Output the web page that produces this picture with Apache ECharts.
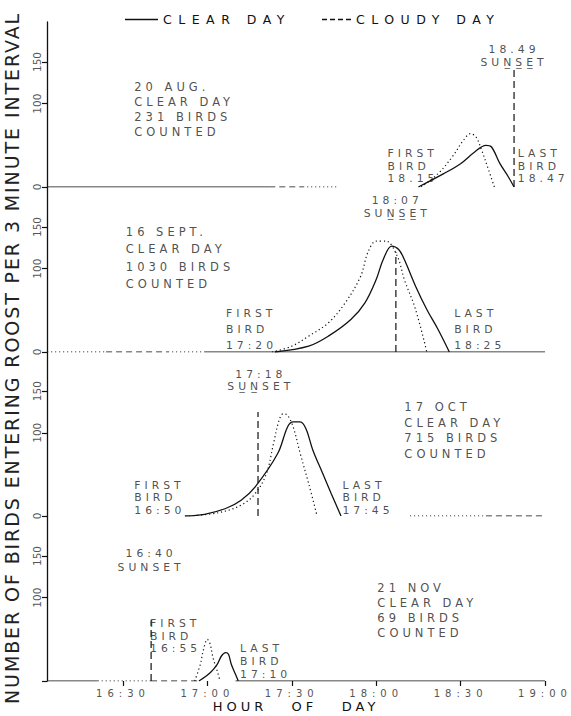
<!DOCTYPE html>
<html>
<head>
<meta charset="utf-8">
<script src="https://cdn.jsdelivr.net/npm/echarts@6/dist/echarts.min.js"></script>
<style>
html, body { margin: 0; padding: 0; background: #fff; }
#main { width: 571px; height: 716px; }
/* lettering is widely spaced in the original drawing */
#main text[style*="12.5px"] { letter-spacing: 6.5px; }
#main text[style*="11.5px"] { letter-spacing: 4px; }
#main text[style*="10.8px"] { letter-spacing: 4px; }
#main text[style*="10px"] { letter-spacing: 5px; }
#main text[style*="13px"] { letter-spacing: 4px; }
#main text[style*="19px"] { letter-spacing: 1.9px; }
</style>
</head>
<body>
<div id="main"></div>
<script>
var FONT = '"DejaVu Sans", sans-serif';

// time in minutes after midnight
var T_MIN = 963, T_MAX = 1140;
var hourTicks = [990, 1020, 1050, 1080, 1110, 1140];
var countTicks = [0, 100, 150];

// 20 AUG
var augClear = [[1095, 0], [1104, 16], [1110, 28], [1115, 42], [1119, 50], [1121, 48], [1124, 28], [1127, 12], [1129, 0]];
var augCloudy = [[1096, 0], [1102, 16], [1107, 36], [1111, 56], [1113.5, 64], [1115.5, 60], [1117.5, 44], [1120, 20], [1122, 0]];
// 16 SEPT
var septClear = [[1044, 0], [1056, 7], [1063, 19], [1071, 39], [1076, 59], [1080, 87], [1082.5, 111], [1085.5, 127], [1088, 123], [1090, 111], [1094, 79], [1098, 51], [1102, 27], [1106, 0]];
var septCloudy = [[1043, 0], [1050, 7], [1056, 19], [1063, 35], [1069, 59], [1074.5, 91], [1077, 119], [1080, 133], [1083.5, 133], [1087.5, 115], [1090, 87], [1094, 51], [1098, 0]];
// 17 OCT
var octClear = [[1012, 0], [1019, 2], [1026.5, 9], [1032, 19], [1037, 35], [1045, 75], [1048.5, 107], [1050.5, 113], [1053, 113], [1055, 105], [1057.5, 79], [1061, 51], [1064, 27], [1067.5, 0]];
var octCloudy = [[1013.5, 0], [1024, 4], [1032, 13], [1037, 27], [1041, 51], [1043.5, 87], [1045.5, 115], [1047, 123], [1048.5, 121], [1050.5, 107], [1053, 75], [1056, 39], [1059, 0]];
// 21 NOV
var novClear = [[1017, 0], [1021, 10], [1023.5, 20], [1025, 30], [1026.5, 34], [1027.5, 32], [1028.5, 20], [1030, 8], [1031, 0]];
var novCloudy = [[1015.5, 0], [1017.5, 20], [1018.5, 36], [1020, 50], [1021, 44], [1022, 28], [1023.5, 12], [1024.5, 0]];

var sunsetTimes = [1129, 1087, 1038, 1000];
var sunsetLineTops = [144, 120, 125, 73];

// zero line pieces: start, end, style
var augBase = [[963, 1042, 'solid'], [1042, 1054, 'dashed'], [1054, 1066, 'dotted']];
var septBase = [[963, 984, 'dotted'], [984, 1006, 'dashed'], [1006, 1019, 'dotted'], [1019, 1140, 'solid']];
var octBase = [[1092, 1119, 'dotted'], [1119, 1140, 'dashed']];
var novBase = [[963, 981, 'solid'], [981, 1000, 'dotted'], [1000, 1017, 'dashed'], [1030, 1140, 'solid']];

// notes: anchor (time, count), text, placement, line height, font size
var augNotes = [
	[994, 93, '20 AUG.\nCLEAR DAY\n231 BIRDS\nCOUNTED', 'right', 15, 11.5],
	[1129, 157, '18.49\nSUN\u0332S\u0332E\u0332T', 'inside', 12.5, 10.8],
	[1084, 25, 'FIRST\nBIRD\n18.15', 'right', 12.5, 10.8],
	[1130.3, 25, 'LAST\nBIRD\n18.47', 'right', 12.5, 10.8]
];
var septNotes = [
	[1087.5, 174, '18:07\nSUN\u0332S\u0332E\u0332T', 'inside', 13, 10.8],
	[991, 113, '16 SEPT.\nCLEAR DAY\n1030 BIRDS\nCOUNTED', 'right', 17.5, 11.5],
	[1026.6, 27, 'FIRST\nBIRD\n17:20', 'right', 16, 10.8],
	[1107.7, 27, 'LAST\nBIRD\n18:25', 'right', 16, 10.8]
];
var octNotes = [
	[1039, 163, '17:18\nSU\u0332N\u0332SET', 'inside', 12.5, 10.8],
	[1090, 103, '17 OCT\nCLEAR DAY\n715 BIRDS\nCOUNTED', 'right', 15.5, 11.5],
	[994, 22, 'FIRST\nBIRD\n16:50', 'right', 12.5, 10.8],
	[1068, 22, 'LAST\nBIRD\n17:45', 'right', 12.5, 10.8]
];
var novNotes = [
	[1000, 145, '16:40\nSUNSET', 'inside', 14, 10.8],
	[1080.4, 85, '21 NOV\nCLEAR DAY\n69 BIRDS\nCOUNTED', 'right', 15, 11.5],
	[999.6, 54, 'FIRST\nBIRD\n16:55', 'right', 12.5, 10.8],
	[1031.6, 24, 'LAST\nBIRD\n17:10', 'right', 13, 10.8]
];

var clearSets = [augClear, septClear, octClear, novClear];
var cloudySets = [augCloudy, septCloudy, octCloudy, novCloudy];
var baseSets = [augBase, septBase, octBase, novBase];
var noteSets = [augNotes, septNotes, octNotes, novNotes];

var INK = '#111';
var dashTypes = { solid: 'solid', dashed: [6, 4], dotted: [1.2, 2.8] };

function fmtTime(v) {
	var h = Math.floor(v / 60), m = v % 60;
	return h + ':' + (m < 10 ? '0' : '') + m;
}

var chart = echarts.init(document.getElementById('main'), null, { renderer: 'svg' });

var tops = [22, 187, 352, 516];
var heights = [165, 165, 164, 165];
var grids = [], xAxes = [], yAxes = [], series = [];

for (var i = 0; i < 4; i++) {
	var last = i === 3;
	grids.push({ left: 47, right: 26, top: tops[i], height: heights[i] });
	xAxes.push({
		type: 'value', gridIndex: i, min: T_MIN, max: T_MAX,
		axisLine: { show: false },
		splitLine: { show: false },
		axisTick: { show: last, length: 5, customValues: hourTicks, lineStyle: { color: INK, width: 1.2 } },
		axisLabel: { show: last, customValues: hourTicks, formatter: fmtTime, margin: 7, fontSize: 10, fontFamily: FONT, color: '#555' },
		name: last ? 'HOUR   OF   DAY' : '',
		nameLocation: 'middle', nameGap: 19,
		nameTextStyle: { fontSize: 13, fontFamily: FONT, color: INK }
	});
	yAxes.push({
		type: 'value', gridIndex: i, min: 0, max: Math.round(heights[i] / 0.834),
		axisLine: { show: true, lineStyle: { color: INK, width: 1.3 } },
		axisTick: { show: true, length: 5, customValues: countTicks, lineStyle: { color: INK, width: 1.2 } },
		axisLabel: { customValues: last ? [100, 150] : countTicks, rotate: 90, margin: 5, fontSize: 10.5, fontFamily: FONT, color: '#555' },
		splitLine: { show: false }
	});

	// zero line pieces
	baseSets[i].forEach(function (b) {
		series.push({
			type: 'line', xAxisIndex: i, yAxisIndex: i, symbol: 'none', silent: true,
			data: [[b[0], 0], [b[1], 0]],
			lineStyle: { color: INK, width: 1.2, type: dashTypes[b[2]] }
		});
	});

	// sunset marker
	series.push({
		type: 'line', xAxisIndex: i, yAxisIndex: i, symbol: 'none', silent: true,
		data: [[sunsetTimes[i], 0], [sunsetTimes[i], sunsetLineTops[i]]],
		lineStyle: { color: INK, width: 1.2, type: [7, 4] }
	});

	series.push({
		type: 'line', name: 'CLEAR DAY', xAxisIndex: i, yAxisIndex: i, symbol: 'none', smooth: 0.35, silent: true,
		data: clearSets[i],
		lineStyle: { color: INK, width: 1.3, type: 'solid' }, itemStyle: { color: INK }
	});
	series.push({
		type: 'line', name: 'CLOUDY DAY', xAxisIndex: i, yAxisIndex: i, symbol: 'none', smooth: 0.35, silent: true,
		data: cloudySets[i],
		lineStyle: { color: INK, width: 1.2, type: dashTypes.dotted }, itemStyle: { color: INK }
	});

	series.push({
		type: 'scatter', xAxisIndex: i, yAxisIndex: i, silent: true, clip: false, symbolSize: 0.1,
		itemStyle: { color: 'rgba(0,0,0,0)' }, z: 10,
		data: noteSets[i].map(function (n) {
			return {
				value: [n[0], n[1]],
				label: {
					show: true, formatter: n[2], position: n[3], distance: 0,
					align: n[3] === 'inside' ? 'center' : 'left',
					lineHeight: n[4], fontSize: n[5], fontFamily: FONT, color: '#222'
				}
			};
		})
	});
}

var option = {
	animation: false,
	backgroundColor: '#fff',
	grid: grids,
	xAxis: xAxes,
	yAxis: yAxes,
	legend: [
		{
			left: 120, top: 8, itemWidth: 33, itemHeight: 1.3, selectedMode: false,
			data: [{ name: 'CLEAR DAY', icon: 'path://M0,0H33V1.3H0Z' }],
			itemStyle: { color: INK },
			textStyle: { fontSize: 12.5, fontFamily: FONT, color: INK }
		},
		{
			left: 317, top: 8, itemWidth: 29, itemHeight: 1.3, selectedMode: false,
			data: [{ name: 'CLOUDY DAY', icon: 'path://M0,0H5V1.3H0Z M8,0H13V1.3H8Z M16,0H21V1.3H16Z M24,0H29V1.3H24Z' }],
			itemStyle: { color: INK },
			textStyle: { fontSize: 12.5, fontFamily: FONT, color: INK }
		}
	],
	graphic: [{
		type: 'text', x: 12, y: 358, rotation: Math.PI / 2, silent: true,
		style: {
			text: 'NUMBER OF BIRDS ENTERING ROOST PER 3 MINUTE INTERVAL',
			fontSize: 19, fontFamily: FONT, fill: '#222',
			align: 'center', verticalAlign: 'middle'
		}
	}],
	series: series
};

chart.setOption(option);
</script>
</body>
</html>
